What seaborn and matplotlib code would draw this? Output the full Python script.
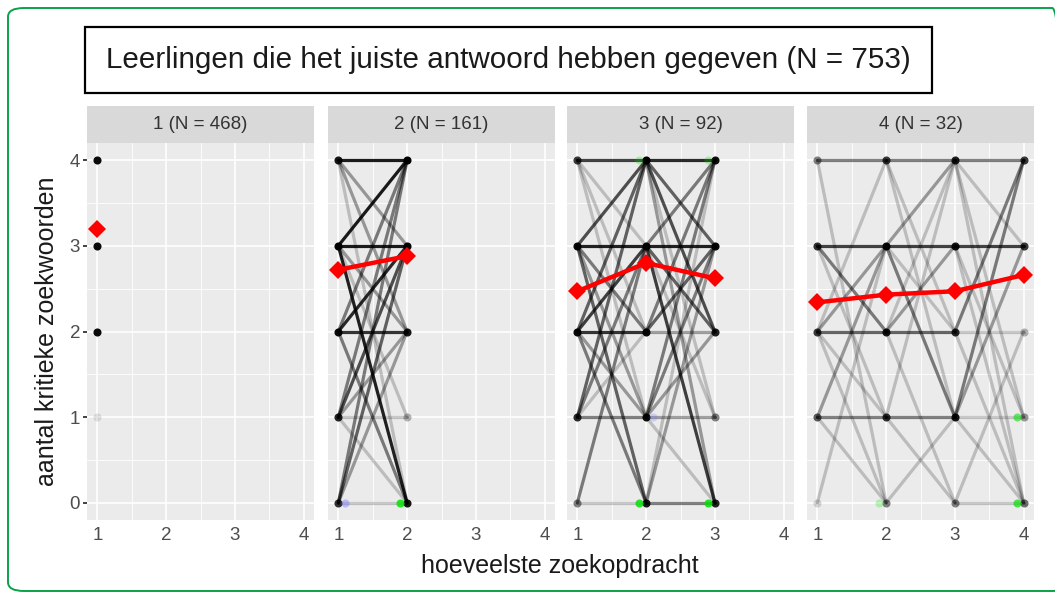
import numpy as np
import pandas as pd
import matplotlib
matplotlib.use("Agg")
import matplotlib.pyplot as plt
import seaborn as sns
from matplotlib.patches import FancyBboxPatch, Rectangle

title_text = "Leerlingen die het juiste antwoord hebben gegeven (N = 753)"
panel_labels = ["1 (N = 468)", "2 (N = 161)", "3 (N = 92)", "4 (N = 32)"]
x_label = "hoeveelste zoekopdracht"
y_label = "aantal kritieke zoekwoorden"
x_ticks = [1, 2, 3, 4]
y_ticks = [0, 1, 2, 3, 4]

# mean number of critical keywords per query, one list per panel
means = {
    1: [3.20],
    2: [2.72, 2.88],
    3: [2.47, 2.80, 2.62],
    4: [2.34, 2.43, 2.47, 2.66],
}

# panel 1: only one query -> just points (value, rough weight)
p1_values = [4, 3, 2, 1]
p1_weight = [14, 14, 14, 0.5]

# transitions between query k and k+1: (step, from, to, weight)
p2_step = [1] * 22
p2_from = [4, 3, 3, 2, 2, 3, 1, 1, 4, 4, 4, 3, 3, 2, 2, 1, 1, 1, 0, 0, 0, 0]
p2_to   = [4, 4, 3, 3, 2, 0, 3, 4, 3, 2, 0, 2, 1, 4, 0, 2, 1, 0, 4, 3, 2, 0]
p2_w    = [10, 10, 10, 8, 7, 9, 5, 3, 2, 2, 1, 2, 1, 3, 3, 2, 1, 1, 3, 4, 2, 1]

p3_step = [1] * 20 + [2] * 21
p3_from = [4, 4, 4, 4, 3, 3, 3, 3, 3, 2, 2, 2, 2, 2, 1, 1, 1, 1, 0, 0,
           4, 4, 4, 4, 4, 3, 3, 3, 3, 3, 2, 2, 2, 1, 1, 1, 1, 1, 0, 0, 0]
p3_to   = [4, 3, 2, 1, 4, 3, 2, 1, 0, 4, 3, 2, 1, 0, 4, 3, 2, 1, 3, 0,
           4, 3, 2, 1, 0, 3, 4, 2, 0, 1, 2, 4, 3, 4, 3, 1, 2, 0, 0, 3, 4]
p3_w    = [6, 1, 1, 1, 5, 9, 3, 2, 4, 4, 6, 7, 2, 3, 4, 3, 1, 3, 3, 1,
           8, 4, 5, 1, 2, 9, 3, 4, 6, 1, 2, 3, 4, 3, 3, 2, 2, 1, 3, 2, 1]

p4_step = [1] * 14 + [2] * 15 + [3] * 16
p4_from = [4, 4, 3, 3, 3, 2, 2, 2, 2, 2, 1, 1, 1, 0,
           4, 4, 4, 3, 3, 3, 3, 2, 2, 2, 2, 1, 1, 1, 0,
           4, 4, 4, 4, 3, 3, 3, 2, 2, 2, 1, 1, 1, 1, 0, 0]
p4_to   = [4, 0, 3, 2, 1, 2, 3, 4, 0, 1, 1, 3, 0, 3,
           4, 2, 1, 3, 1, 4, 2, 2, 3, 4, 0, 1, 4, 0, 1,
           4, 3, 0, 1, 3, 0, 1, 2, 4, 0, 4, 3, 1, 0, 2, 0]
p4_w    = [3, 1, 6, 3, 1, 4, 2, 1, 1, 1, 3, 2, 1, 1,
           3, 1, 1, 6, 3, 2, 1, 4, 2, 1, 1, 3, 1, 1, 1,
           3, 1, 1, 1, 6, 1, 1, 1, 3, 1, 3, 2, 1, 1, 1, 1]

# a few coloured (other group) points
dot_panel = [2, 2, 3, 3, 3, 3, 3, 4, 4, 4]
dot_x     = [1.1, 1.9, 1.9, 2.9, 1.9, 2.9, 2.1, 3.9, 3.9, 1.9]
dot_y     = [0, 0, 0, 0, 4, 4, 1, 1, 0, 0]
dot_col   = ["blue", "green", "green", "green", "green", "green", "blue", "green", "green", "green"]
dot_w     = [2, 6, 6, 6, 1, 1, 1, 3, 4, 1]

transitions = {
    2: pd.DataFrame({"step": p2_step, "from": p2_from, "to": p2_to, "w": p2_w}),
    3: pd.DataFrame({"step": p3_step, "from": p3_from, "to": p3_to, "w": p3_w}),
    4: pd.DataFrame({"step": p4_step, "from": p4_from, "to": p4_to, "w": p4_w}),
}
dots = pd.DataFrame({"panel": dot_panel, "x": dot_x, "y": dot_y, "col": dot_col, "w": dot_w})


def weight_alpha(w, a=0.2):
    return 1 - (1 - a) ** w


sns.set_theme(style="darkgrid", rc={
    "axes.facecolor": "#EBEBEB",
    "grid.color": "white",
    "axes.edgecolor": "#EBEBEB",
})
plt.rcParams["font.family"] = ["Liberation Sans", "DejaVu Sans"]

W, H = 1055, 593
fig = plt.figure(figsize=(W / 100, H / 100), dpi=100)


def fbox(x0, y0, x1, y1):
    # pixel box (top-left origin) -> figure fraction rect
    return [x0 / W, 1 - y1 / H, (x1 - x0) / W, (y1 - y0) / H]


# green outer frame
fig.patches.append(FancyBboxPatch((8 / W, 2 / H), 1060 / W, 583 / H,
                                  boxstyle="round,pad=0,rounding_size=0.015",
                                  transform=fig.transFigure, fill=False,
                                  edgecolor="#0BA14B", linewidth=1.4))

# title box
r = fbox(85, 27, 932, 93)
fig.patches.append(Rectangle((r[0], r[1]), r[2], r[3], transform=fig.transFigure,
                             facecolor="white", edgecolor="black", linewidth=1.6))
fig.text(r[0] + r[2] / 2, r[1] + r[3] / 2, title_text, ha="center", va="center",
         fontsize=21.3, color="#1A1A1A")

panel_x = [(87, 314), (328, 555), (567, 794), (807, 1034)]
for i, (x0, x1) in enumerate(panel_x):
    p = i + 1
    ax = fig.add_axes(fbox(x0, 143, x1, 520))
    sax = fig.add_axes(fbox(x0, 106, x1, 143))
    sax.set_facecolor("#D9D9D9")
    sax.set_xticks([])
    sax.set_yticks([])
    sax.grid(False)
    for s in sax.spines.values():
        s.set_visible(False)
    sax.text(0.5, 0.5, panel_labels[i], ha="center", va="center",
             fontsize=13.5, color="#333333", transform=sax.transAxes)

    ax.set_xlim(0.85, 4.15)
    ax.set_ylim(-0.2, 4.2)
    ax.set_xticks(x_ticks)
    ax.set_yticks(y_ticks)
    ax.set_xticks([1.5, 2.5, 3.5], minor=True)
    ax.set_yticks([0.5, 1.5, 2.5, 3.5], minor=True)
    ax.grid(True, which="major", color="white", linewidth=1.2)
    ax.grid(True, which="minor", color="white", linewidth=0.6)
    ax.tick_params(axis="both", which="major", length=3, width=1.3, color="#333333",
                   labelsize=13.5, labelcolor="#4D4D4D", pad=2)
    ax.tick_params(which="minor", length=0)
    ax.tick_params(axis="y", left=(p == 1), labelleft=(p == 1))
    for s in ax.spines.values():
        s.set_visible(False)
    ax.set_axisbelow(True)

    if p == 1:
        for v, w in zip(p1_values, p1_weight):
            ax.scatter([1], [v], s=34, color="black", alpha=weight_alpha(w),
                       linewidths=0, zorder=3)
    else:
        df = transitions[p]
        nodes = {}
        for _, row in df.iterrows():
            x_a, x_b = row["step"], row["step"] + 1
            ax.plot([x_a, x_b], [row["from"], row["to"]], color="black",
                    linewidth=2.3, alpha=weight_alpha(row["w"]), zorder=2,
                    solid_capstyle="round")
            nodes[(x_a, row["from"])] = nodes.get((x_a, row["from"]), 0) + row["w"]
            nodes[(x_b, row["to"])] = nodes.get((x_b, row["to"]), 0) + row["w"]
        for (nx, ny), w in nodes.items():
            ax.scatter([nx], [ny], s=34, color="black", alpha=weight_alpha(w, 0.15),
                       linewidths=0, zorder=3)
        dd = dots[dots["panel"] == p]
        for _, row in dd.iterrows():
            c = "#00E000" if row["col"] == "green" else "#7777FF"
            ax.scatter([row["x"]], [row["y"]], s=34, color=c,
                       alpha=weight_alpha(row["w"], 0.25), linewidths=0, zorder=3)

    m = means[p]
    sns.lineplot(x=list(range(1, len(m) + 1)), y=m, ax=ax, color="red", linewidth=3.2,
                 marker="D", markersize=9, markeredgewidth=0, zorder=5)

fig.text(560 / W, 1 - 566 / H, x_label, ha="center", va="center", fontsize=18, color="#1A1A1A")
fig.text(47 / W, 1 - 331 / H, y_label, ha="center", va="center", rotation=90,
         fontsize=18, color="#1A1A1A")

fig.savefig("out.png", dpi=100, facecolor="white")
